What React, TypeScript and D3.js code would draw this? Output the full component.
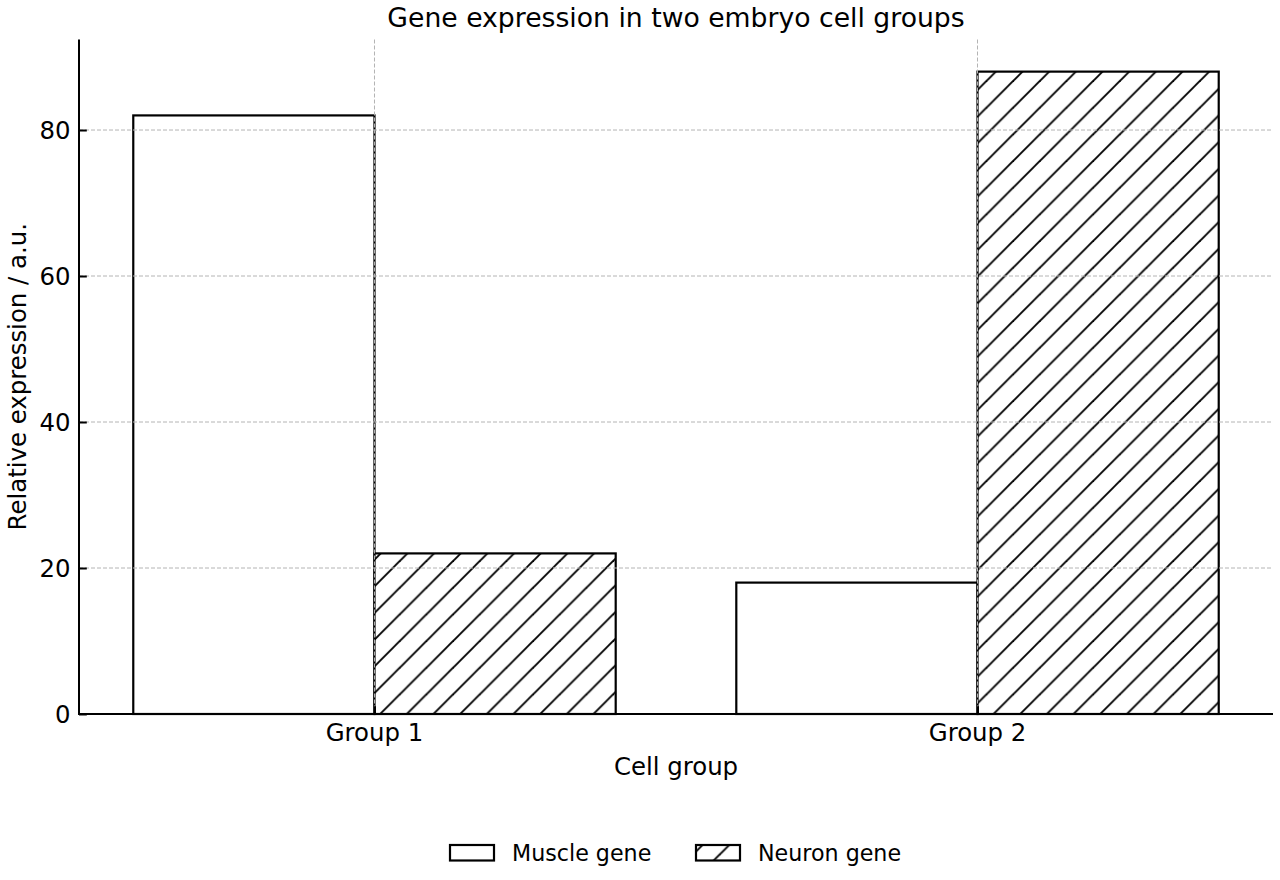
import React, { useRef, useEffect } from "react";
import * as d3 from "d3";

const groups = ["Group 1", "Group 2"];
const muscleValues = [82, 18];
const neuronValues = [22, 88];
const yTicks = [0, 20, 40, 60, 80];
const seriesNames = ["Muscle gene", "Neuron gene"];

const width = 1280;
const height = 880;
const margin = { top: 39.5, right: 7, bottom: 166, left: 79 };
const barWidth = 0.4;
const font = "DejaVu Sans, sans-serif";

const App: React.FC = () => {
  const svgRef = useRef<SVGSVGElement | null>(null);

  useEffect(() => {
    const svg = d3.select(svgRef.current);
    svg.selectAll("*").remove();

    const left = margin.left;
    const right = width - margin.right;
    const bottom = height - margin.bottom;
    const top = margin.top;

    const maxVal = Math.max(...muscleValues, ...neuronValues);
    // x is a plain linear scale over group index, bars sit either side of it
    const lo = -barWidth;
    const hi = groups.length - 1 + barWidth;
    const pad = (hi - lo) * 0.05;
    const x = d3.scaleLinear().domain([lo - pad, hi + pad]).range([left, right]);
    const y = d3.scaleLinear().domain([0, maxVal * 1.05]).range([bottom, top]);

    // hatch tile, anchored to the page like matplotlib's
    const hatchStep = 26.67;
    const defs = svg.append("defs");
    const pat = defs
      .append("pattern")
      .attr("id", "hatch")
      .attr("patternUnits", "userSpaceOnUse")
      .attr("x", 0.67)
      .attr("y", 0)
      .attr("width", hatchStep)
      .attr("height", hatchStep);
    pat.append("rect").attr("width", hatchStep).attr("height", hatchStep).attr("fill", "white");
    [
      [-hatchStep, hatchStep, hatchStep, -hatchStep],
      [0, hatchStep * 2, hatchStep * 2, 0],
      [0, hatchStep, hatchStep, 0],
    ].forEach(([x1, y1, x2, y2]) => {
      pat
        .append("line")
        .attr("x1", x1)
        .attr("y1", y1)
        .attr("x2", x2)
        .attr("y2", y2)
        .attr("stroke", "black")
        .attr("stroke-width", 1.9);
    });

    const chart = svg.append("g");

    // muscle bars to the left of each group centre
    chart
      .selectAll(".muscle")
      .data(muscleValues)
      .enter()
      .append("rect")
      .attr("class", "muscle")
      .attr("x", (_, i) => x(i - barWidth))
      .attr("width", x(barWidth) - x(0))
      .attr("y", (d) => y(d))
      .attr("height", (d) => bottom - y(d))
      .attr("fill", "white")
      .attr("stroke", "black")
      .attr("stroke-width", 2.2);

    // neuron bars to the right, hatched
    chart
      .selectAll(".neuron")
      .data(neuronValues)
      .enter()
      .append("rect")
      .attr("class", "neuron")
      .attr("x", (_, i) => x(i))
      .attr("width", x(barWidth) - x(0))
      .attr("y", (d) => y(d))
      .attr("height", (d) => bottom - y(d))
      .attr("fill", "url(#hatch)")
      .attr("stroke", "black")
      .attr("stroke-width", 2.2);

    // dashed grid drawn over the bars
    const grid = svg.append("g").attr("stroke", "#b4b4b4").attr("stroke-width", 1).attr("stroke-dasharray", "4,2");
    yTicks.slice(1).forEach((t) => {
      grid.append("line").attr("x1", left).attr("x2", right).attr("y1", y(t)).attr("y2", y(t));
    });
    groups.forEach((_, i) => {
      grid.append("line").attr("x1", x(i)).attr("x2", x(i)).attr("y1", top).attr("y2", bottom);
    });

    // left and bottom spines with inward ticks
    const yAxis = svg
      .append("g")
      .attr("transform", `translate(${left},0)`)
      .call(d3.axisRight(y).tickValues(yTicks).tickSize(7.8).tickFormat(() => ""));
    yAxis.select(".domain").remove();
    yAxis.selectAll("line").attr("stroke", "black").attr("stroke-width", 2);

    const xAxis = svg
      .append("g")
      .attr("transform", `translate(0,${bottom})`)
      .call(d3.axisTop(x).tickValues(groups.map((_, i) => i)).tickSize(7.8).tickFormat(() => ""));
    xAxis.select(".domain").remove();
    xAxis.selectAll("line").attr("stroke", "black").attr("stroke-width", 2);

    svg
      .append("line")
      .attr("x1", left)
      .attr("x2", left)
      .attr("y1", top)
      .attr("y2", bottom + 1)
      .attr("stroke", "black")
      .attr("stroke-width", 2);
    svg
      .append("line")
      .attr("x1", left - 1)
      .attr("x2", right)
      .attr("y1", bottom)
      .attr("y2", bottom)
      .attr("stroke", "black")
      .attr("stroke-width", 2);

    const text = svg.append("g").attr("font-family", font).attr("fill", "black");

    yTicks.forEach((t) => {
      text
        .append("text")
        .attr("x", left - 8.5)
        .attr("y", y(t))
        .attr("dy", "0.36em")
        .attr("text-anchor", "end")
        .attr("font-size", 24.4)
        .text(t);
    });

    groups.forEach((g, i) => {
      text
        .append("text")
        .attr("x", x(i))
        .attr("y", 741)
        .attr("text-anchor", "middle")
        .attr("font-size", 24.4)
        .text(g);
    });

    text
      .append("text")
      .attr("x", (left + right) / 2)
      .attr("y", 775)
      .attr("text-anchor", "middle")
      .attr("font-size", 24.4)
      .text("Cell group");

    text
      .append("text")
      .attr("transform", `translate(26,${(top + bottom) / 2}) rotate(-90)`)
      .attr("text-anchor", "middle")
      .attr("font-size", 24.4)
      .text("Relative expression / a.u.");

    text
      .append("text")
      .attr("x", (left + right) / 2)
      .attr("y", 27)
      .attr("text-anchor", "middle")
      .attr("font-size", 26.67)
      .text("Gene expression in two embryo cell groups");

    // legend below the axes, two columns
    const legendFills = ["white", "url(#hatch)"];
    const patchX = [450, 696];
    seriesNames.forEach((name, i) => {
      svg
        .append("rect")
        .attr("x", patchX[i])
        .attr("y", 845)
        .attr("width", 44)
        .attr("height", 15.5)
        .attr("fill", legendFills[i])
        .attr("stroke", "black")
        .attr("stroke-width", 2.2);
      text
        .append("text")
        .attr("x", patchX[i] + 62)
        .attr("y", 861)
        .attr("font-size", 22.2)
        .text(name);
    });
  }, []);

  return (
    <svg
      ref={svgRef}
      width={width}
      height={height}
      style={{ position: "absolute", left: 0, top: 0, background: "white" }}
    />
  );
};

export default App;
